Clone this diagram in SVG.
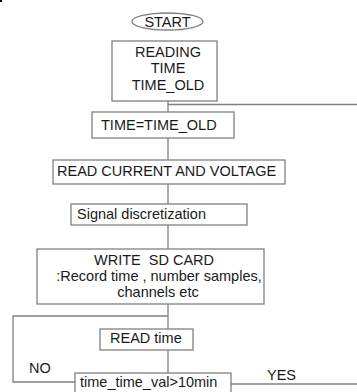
<svg xmlns="http://www.w3.org/2000/svg" width="357" height="392" viewBox="0 0 357 392">
<style>
.box{fill:#fff;stroke:#808080;stroke-width:1.3}
.ln{fill:none;stroke:#808080;stroke-width:1.3}
text{font-family:"Liberation Sans",Arial,sans-serif;font-size:14.5px;fill:#1a1a1a}
.c{text-anchor:middle}
</style>
<rect width="357" height="392" fill="#fff"/>
<rect x="0" y="0" width="2" height="2" fill="#000"/>
<g id="connectors">
<path class="ln" d="M168,101 V112"/>
<path class="ln" d="M168,104.5 H357"/>
<path class="ln" d="M168,138 V160"/>
<path class="ln" d="M168,184 V204"/>
<path class="ln" d="M168,225 V249"/>
<path class="ln" d="M168,304 V329"/>
<path class="ln" d="M168,316 H13 V382 H75"/>
<path class="ln" d="M168,350 V373"/>
<path class="ln" d="M231,384 H357"/>
</g>
<g id="start">
<ellipse class="box" cx="167.5" cy="21.5" rx="35.5" ry="8.5"/>
<text class="c" x="167.5" y="26.5">START</text>
</g>
<g id="reading">
<rect class="box" x="112" y="41" width="105" height="60"/>
<text class="c" x="168" y="57">READING</text>
<text class="c" x="168" y="73">TIME</text>
<text class="c" x="168" y="90">TIME_OLD</text>
</g>
<g id="assign">
<rect class="box" x="92" y="112" width="142" height="26"/>
<text x="101" y="130">TIME=TIME_OLD</text>
</g>
<g id="readcv">
<rect class="box" x="53" y="160" width="232" height="24"/>
<text x="57" y="176">READ CURRENT AND VOLTAGE</text>
</g>
<g id="discretize">
<rect class="box" x="71" y="204" width="176" height="21"/>
<text x="77" y="219">Signal discretization</text>
</g>
<g id="writesd">
<rect class="box" x="37" y="249" width="227" height="55"/>
<text class="c" x="154" y="265" xml:space="preserve">WRITE  SD CARD</text>
<text class="c" x="159" y="281">:Record time , number samples,</text>
<text class="c" x="158" y="297">channels etc</text>
</g>
<g id="readtime">
<rect class="box" x="100" y="329" width="93" height="21"/>
<text x="110" y="343">READ time</text>
</g>
<g id="decision">
<rect class="box" x="75" y="373" width="156" height="30"/>
<text x="80" y="387">time_time_val&gt;10min</text>
</g>
<g id="labels">
<text x="29" y="373">NO</text>
<text x="267" y="380">YES</text>
</g>
</svg>
